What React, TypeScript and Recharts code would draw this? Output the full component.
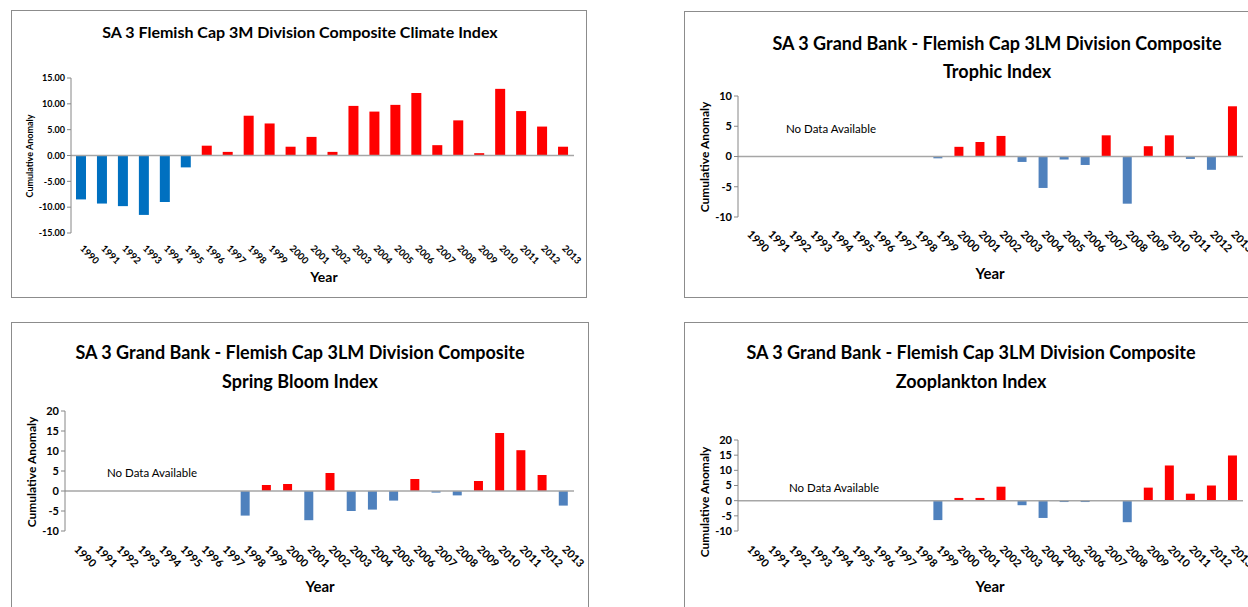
import React from "react"
import { BarChart, Bar, XAxis, YAxis, Cell, ReferenceLine } from "recharts"

const YEARS = [
  "1990", "1991", "1992", "1993", "1994", "1995", "1996", "1997", "1998", "1999", "2000", "2001",
  "2002", "2003", "2004", "2005", "2006", "2007", "2008", "2009", "2010", "2011", "2012", "2013",
]

const CLIMATE = [
  -8.5, -9.3, -9.8, -11.5, -9.0, -2.3, 1.9, 0.7, 7.7, 6.2, 1.7, 3.6,
  0.7, 9.6, 8.5, 9.8, 12.1, 2.0, 6.8, 0.45, 12.9, 8.6, 5.6, 1.7,
]

const TROPHIC = [
  null, null, null, null, null, null, null, null, null, -0.3, 1.6, 2.4,
  3.4, -0.9, -5.2, -0.5, -1.4, 3.5, -7.8, 1.7, 3.5, -0.4, -2.2, 8.3,
]

const SPRING_BLOOM = [
  null, null, null, null, null, null, null, null, -6.15, 1.5, 1.75, -7.3,
  4.5, -5.0, -4.65, -2.4, 3.0, -0.4, -1.1, 2.5, 14.5, 10.2, 4.0, -3.65,
]

const ZOOPLANKTON = [
  null, null, null, null, null, null, null, null, null, -6.4, 0.9, 0.9,
  4.6, -1.5, -5.7, -0.45, -0.45, 0.2, -7.1, 4.3, 11.6, 2.3, 5.0, 14.9,
]

const TICKS_10 = [-10, -5, 0, 5, 10]
const TICKS_15 = [-15, -10, -5, 0, 5, 10, 15]
const TICKS_20 = [-10, -5, 0, 5, 10, 15, 20]

const FONT = "Lato, 'Open Sans', sans-serif"
const RED = "#FF0000"
const YW = 40
const XH = 30

type Box = { x: number; y: number; w: number; h: number }
type Plot = { l: number; r: number; t: number; b: number }

type PanelProps = {
  box: Box
  plot: Plot
  values: (number | null)[]
  neg: string
  domain: [number, number]
  ticks: number[]
  fmt?: (v: number) => string
  yTickFs: number
  xTickFs: number
  xTickDy: number
  title: string[]
  titleX: number
  titleY: number[]
  titleFs: number
  yLabel: [number, number]
  yLabelFs: number
  year: [number, number]
  yearFs: number
  noData?: [number, number]
  barSize: number
}

function Centered({ x, y, fs, bold, rotate, children }: any) {
  return (
    <div
      style={{
        position: "absolute",
        left: x,
        top: y,
        transform: `translate(-50%, -50%)${rotate ? " rotate(-90deg)" : ""}`,
        whiteSpace: "nowrap",
        fontFamily: FONT,
        fontSize: fs,
        fontWeight: bold ? "bold" : "normal",
        color: "#000",
        lineHeight: 1,
      }}
    >
      {children}
    </div>
  )
}

function Panel(p: PanelProps) {
  const data = YEARS.map((year, i) => ({ year, value: p.values[i] }))
  const margin = {
    top: p.plot.t - p.box.y,
    left: p.plot.l - p.box.x - YW,
    right: p.box.x + p.box.w - p.plot.r,
    bottom: p.box.y + p.box.h - p.plot.b - XH,
  }

  const renderTick = (props: any) => {
    const { x, y, payload } = props
    const tx = x - 2
    const ty = y + p.xTickDy
    return (
      <text
        x={tx}
        y={ty}
        transform={`rotate(45 ${tx} ${ty})`}
        textAnchor="start"
        fontSize={p.xTickFs}
        fontWeight="bold"
        fontFamily={FONT}
        fill="#000"
      >
        {payload.value}
      </text>
    )
  }

  return (
    <>
      <div
        style={{
          position: "absolute",
          left: p.box.x,
          top: p.box.y,
          width: p.box.w,
          height: p.box.h,
          border: "1px solid #8c8c8c",
          boxSizing: "border-box",
        }}
      />
      <div style={{ position: "absolute", left: p.box.x, top: p.box.y }}>
        <BarChart width={p.box.w} height={p.box.h} data={data} margin={margin}>
          <XAxis
            dataKey="year"
            interval={0}
            axisLine={false}
            tickLine={false}
            tickSize={0}
            tickMargin={0}
            height={XH}
            tick={renderTick}
          />
          <YAxis
            width={YW}
            domain={p.domain}
            ticks={p.ticks}
            interval={0}
            allowDataOverflow
            tickFormatter={p.fmt}
            axisLine={{ stroke: "#868686" }}
            tickLine={{ stroke: "#868686" }}
            tickSize={4}
            tick={{ fill: "#000", fontSize: p.yTickFs, fontWeight: "bold", fontFamily: FONT }}
          />
          <Bar dataKey="value" barSize={p.barSize} isAnimationActive={false}>
            {data.map((d, i) => (
              <Cell key={`c-${i}`} fill={d.value !== null && d.value >= 0 ? RED : p.neg} />
            ))}
          </Bar>
          <ReferenceLine y={0} stroke="#a6a6a6" strokeWidth={1.5} />
        </BarChart>
      </div>
      {p.title.map((line, i) => (
        <Centered key={line} x={p.titleX} y={p.titleY[i]} fs={p.titleFs} bold>
          {line}
        </Centered>
      ))}
      <Centered x={p.yLabel[0]} y={p.yLabel[1]} fs={p.yLabelFs} bold rotate>
        Cumulative Anomaly
      </Centered>
      <Centered x={p.year[0]} y={p.year[1]} fs={p.yearFs} bold>
        Year
      </Centered>
      {p.noData && (
        <Centered x={p.noData[0]} y={p.noData[1]} fs={11.5}>
          No Data Available
        </Centered>
      )}
    </>
  )
}

export default function App() {
  return (
    <div
      style={{
        position: "fixed",
        left: 0,
        top: 0,
        width: 1248,
        height: 607,
        overflow: "hidden",
        background: "#fff",
      }}
    >
      <Panel
        box={{ x: 11, y: 10, w: 576, h: 288 }}
        plot={{ l: 71, r: 574, t: 78, b: 233 }}
        values={CLIMATE}
        neg="#0070C0"
        domain={[-15, 15]}
        ticks={TICKS_15}
        fmt={(v: number) => v.toFixed(2)}
        yTickFs={9}
        xTickFs={9.5}
        xTickDy={16}
        title={["SA 3 Flemish Cap 3M Division Composite Climate Index"]}
        titleX={300}
        titleY={[32]}
        titleFs={16}
        yLabel={[29, 156]}
        yLabelFs={9}
        year={[324, 277]}
        yearFs={14}
        barSize={10}
      />
      <Panel
        box={{ x: 684, y: 11, w: 580, h: 287 }}
        plot={{ l: 738, r: 1243, t: 96, b: 217 }}
        values={TROPHIC}
        neg="#4F81BD"
        domain={[-10, 10]}
        ticks={TICKS_10}
        yTickFs={11}
        xTickFs={11}
        xTickDy={18}
        title={["SA 3 Grand Bank - Flemish Cap 3LM Division Composite", "Trophic Index"]}
        titleX={997}
        titleY={[43, 71]}
        titleFs={18}
        yLabel={[705, 157]}
        yLabelFs={12}
        year={[990, 273]}
        yearFs={15}
        noData={[831, 129]}
        barSize={9}
      />
      <Panel
        box={{ x: 11, y: 322, w: 578, h: 300 }}
        plot={{ l: 65, r: 574, t: 411, b: 531 }}
        values={SPRING_BLOOM}
        neg="#4F81BD"
        domain={[-10, 20]}
        ticks={TICKS_20}
        yTickFs={11}
        xTickFs={11}
        xTickDy={19}
        title={["SA 3 Grand Bank - Flemish Cap 3LM Division Composite", "Spring Bloom Index"]}
        titleX={300}
        titleY={[352, 381]}
        titleFs={18}
        yLabel={[32, 472]}
        yLabelFs={12}
        year={[320, 586]}
        yearFs={15}
        noData={[152, 473]}
        barSize={9}
      />
      <Panel
        box={{ x: 684, y: 322, w: 580, h: 300 }}
        plot={{ l: 738, r: 1243, t: 440, b: 531 }}
        values={ZOOPLANKTON}
        neg="#4F81BD"
        domain={[-10, 20]}
        ticks={TICKS_20}
        yTickFs={11}
        xTickFs={11}
        xTickDy={19}
        title={["SA 3 Grand Bank - Flemish Cap 3LM Division Composite", "Zooplankton Index"]}
        titleX={971}
        titleY={[352, 381]}
        titleFs={18}
        yLabel={[705, 502]}
        yLabelFs={12}
        year={[990, 586]}
        yearFs={15}
        noData={[834, 488]}
        barSize={9}
      />
    </div>
  )
}
